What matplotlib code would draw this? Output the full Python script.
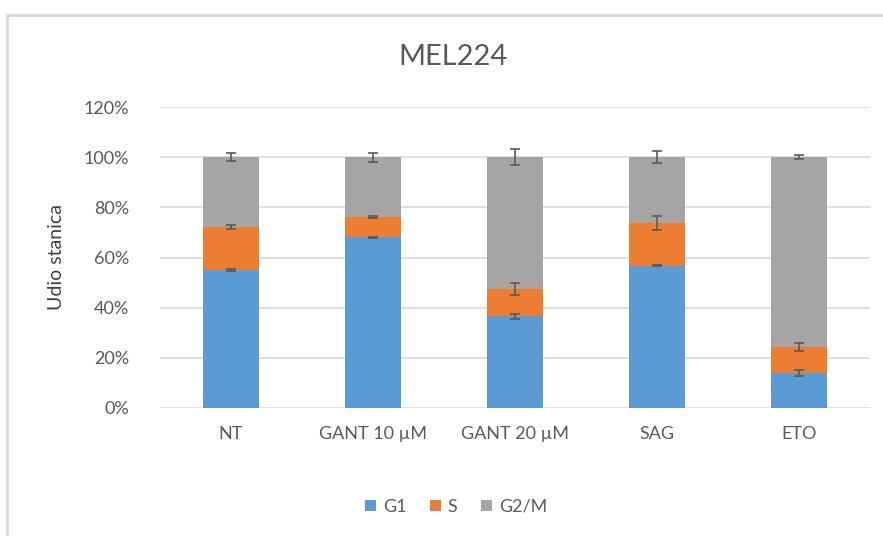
import matplotlib.pyplot as plt
from matplotlib.patches import Rectangle
import numpy as np

plt.rcParams['font.family'] = ['Lato', 'DejaVu Sans']

categories = ["NT", "GANT 10 µM", "GANT 20 µM", "SAG", "ETO"]
g1 = [55.2, 68.0, 36.5, 56.8, 13.9]
s = [16.9, 8.1, 10.9, 16.9, 10.4]
g1_err = [0.4, 0.3, 1.0, 0.3, 1.2]
s_err = [0.8, 0.4, 2.3, 2.7, 1.5]
g2m_err = [1.6, 1.8, 3.3, 2.5, 0.8]
labels = ["G1", "S", "G2/M"]
colors = ["#5B9BD5", "#ED7D31", "#A5A5A5"]
text_col = "#595959"

g1 = np.array(g1)
s = np.array(s)
g2m = 100 - g1 - s

fig = plt.figure(figsize=(8.83, 5.36), dpi=100)
# chart area border (light gray)
fig.patches.append(Rectangle((7 / 883, -0.05), 1.2, 1 - 15 / 536 + 0.05,
                             transform=fig.transFigure, fill=False,
                             edgecolor="#D9D9D9", linewidth=2))

ax = fig.add_axes([160 / 883, 1 - 408 / 536, 710 / 883, (408 - 107) / 536])
x = np.arange(len(categories))
w = 0.4
err_kw = dict(ecolor="#5A5A5A", capsize=3.5, elinewidth=1.2, capthick=1.2)
ax.bar(x, g1, w, color=colors[0], label=labels[0], yerr=g1_err, error_kw=err_kw, zorder=2)
ax.bar(x, s, w, bottom=g1, color=colors[1], label=labels[1], yerr=s_err, error_kw=err_kw, zorder=2)
ax.bar(x, g2m, w, bottom=g1 + s, color=colors[2], label=labels[2], yerr=g2m_err, error_kw=err_kw, zorder=2)

ax.set_xlim(-0.5, len(categories) - 0.5)
ax.set_ylim(0, 120)
ax.set_yticks(np.arange(0, 121, 20))
ax.set_yticklabels([f"{v}%" for v in range(0, 121, 20)])
ax.set_xticks(x)
ax.set_xticklabels(categories)
ax.grid(axis="y", color="#D9D9D9", linewidth=1.2, zorder=0)
ax.set_axisbelow(True)
for sp in ax.spines.values():
    sp.set_visible(False)
ax.tick_params(axis="both", length=0, colors=text_col, labelsize=13)
ax.tick_params(axis="y", pad=22)
ax.tick_params(axis="x", pad=13)
ax.set_ylabel("Udio stanica", color="#404040", fontsize=14, labelpad=14)

fig.text(453 / 883, 1 - 57 / 536, "MEL224", ha="center", va="center",
         fontsize=21, color=text_col)

handles, lbls = ax.get_legend_handles_labels()
fig.legend(handles, lbls, loc="center", bbox_to_anchor=(456 / 883, 1 - 507 / 536),
           ncol=3, frameon=False, fontsize=13, labelcolor=text_col,
           handlelength=0.6, handleheight=0.6, handletextpad=0.4, columnspacing=1.3)

fig.savefig("out.png", dpi=100)
